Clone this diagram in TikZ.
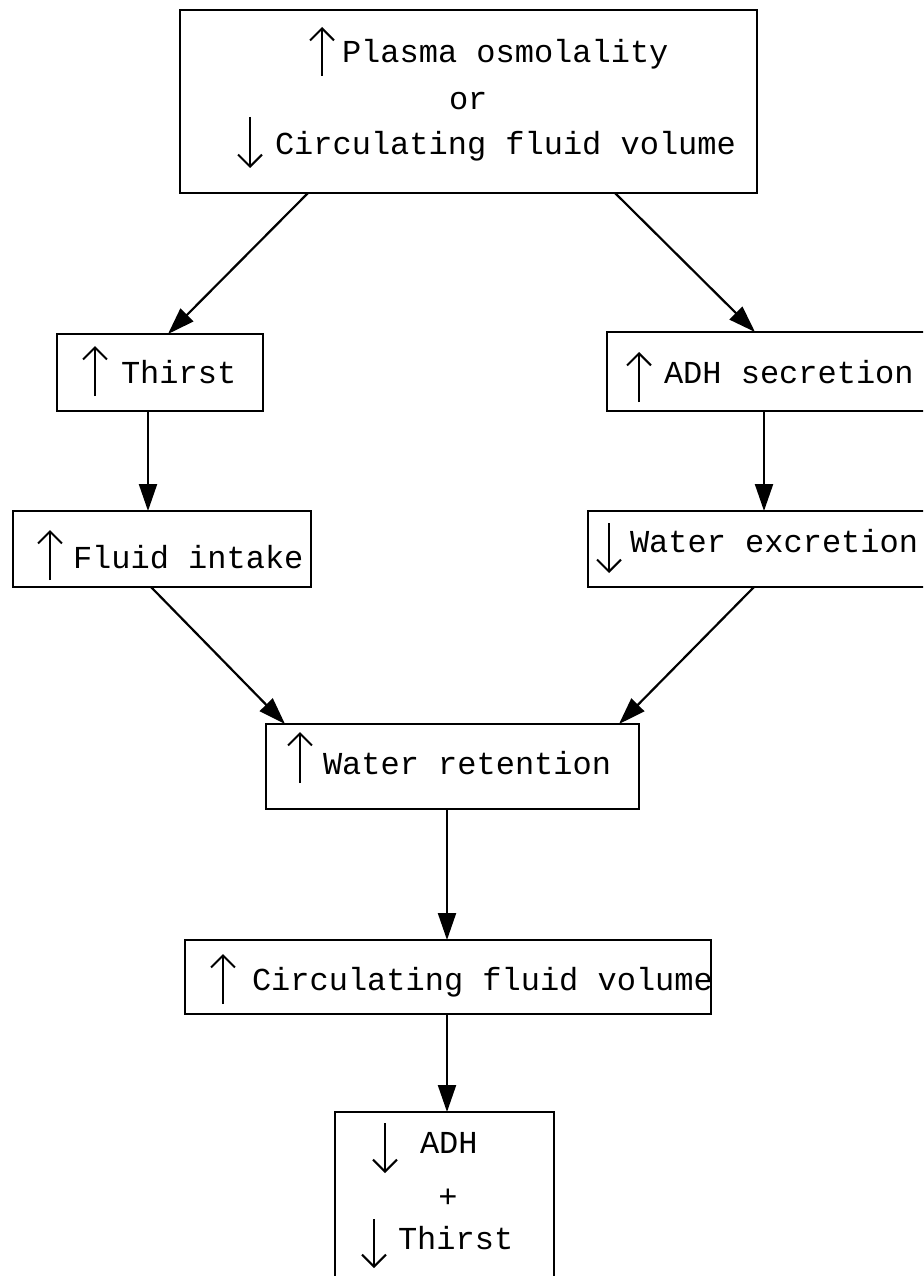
\documentclass[tikz,border=0pt]{standalone}
\usepackage{fontspec}
\setmainfont{Liberation Mono}
\usetikzlibrary{arrows.meta,calc}
\begin{document}
\begin{tikzpicture}[x=1pt,y=-1pt,
  box/.style={draw,line width=2.4pt,rectangle,inner sep=0pt,outer sep=0pt,anchor=north west},
  txt/.style={inner sep=0pt,outer sep=0pt,anchor=base west,font=\fontsize{32}{32}\selectfont},
  conn/.style={line width=2.2pt,-{Triangle[length=27pt,width=18pt]}},
  sym/.style={line width=2pt,-{Straight Barb[length=12pt,width=24pt]}}]
\useasboundingbox (0,0) rectangle (923,1276);
\clip (0,0) rectangle (923,1276);
% boxes
\node[box,minimum width=577pt,minimum height=183pt] (top) at (180,10) {};
\node[box,minimum width=206pt,minimum height=77pt] (thirst) at (57,334) {};
\node[box,minimum width=298pt,minimum height=76pt] (fluid) at (13,511) {};
\node[box,minimum width=333pt,minimum height=79pt] (adh) at (607,332) {};
\node[box,minimum width=352pt,minimum height=76pt] (wexc) at (588,511) {};
\node[box,minimum width=373pt,minimum height=85pt] (wret) at (266,724) {};
\node[box,minimum width=526pt,minimum height=74pt] (circ) at (185,940) {};
\node[box,minimum width=219pt,minimum height=190pt] (final) at (335,1112) {};
% texts
\node[txt] (t1) at (342,63) {Plasma osmolality};
\node[txt] (t2) at (449,110) {or};
\node[txt] (t3) at (275,155) {Circulating fluid volume};
\node[txt] (t4) at (121,383) {Thirst};
\node[txt] (t5) at (73,568) {Fluid intake};
\node[txt] (t6) at (664,383) {ADH secretion};
\node[txt] (t7) at (630,552) {Water excretion};
\node[txt] (t8) at (323,774) {Water retention};
\node[txt] (t9) at (252,990) {Circulating fluid volume};
\node[txt] (t10) at (420,1153) {ADH};
\node[txt,anchor=base] (t11) at (448,1207) {+};
\node[txt] (t12) at (398,1249) {Thirst};
% small arrow glyphs
\draw[sym] (322,76) -- (322,27);
\draw[sym] (250,117) -- (250,168);
\draw[sym] (95,396) -- (95,346);
\draw[sym] (50,580) -- (50,530);
\draw[sym] (639,402) -- (639,352);
\draw[sym] (609,523) -- (609,573);
\draw[sym] (300,783) -- (300,732);
\draw[sym] (223,1004) -- (223,954);
\draw[sym] (385,1123) -- (385,1173);
\draw[sym] (374,1219) -- (374,1268);
% connectors
\draw[conn] ([xshift=128pt]top.south west) -- ([xshift=111pt]thirst.north west);
\draw[conn] ([xshift=435pt]top.south west) -- ([xshift=148pt]adh.north west);
\draw[conn] ([xshift=91pt]thirst.south west) -- ([xshift=135pt]fluid.north west);
\draw[conn] ([xshift=157pt]adh.south west) -- ([xshift=176pt]wexc.north west);
\draw[conn] ([xshift=138pt]fluid.south west) -- ([xshift=19pt]wret.north west);
\draw[conn] ([xshift=166pt]wexc.south west) -- ([xshift=353pt]wret.north west);
\draw[conn] ([xshift=181pt]wret.south west) -- ([xshift=262pt]circ.north west);
\draw[conn] ([xshift=262pt]circ.south west) -- ([xshift=112pt]final.north west);
\end{tikzpicture}
\end{document}
